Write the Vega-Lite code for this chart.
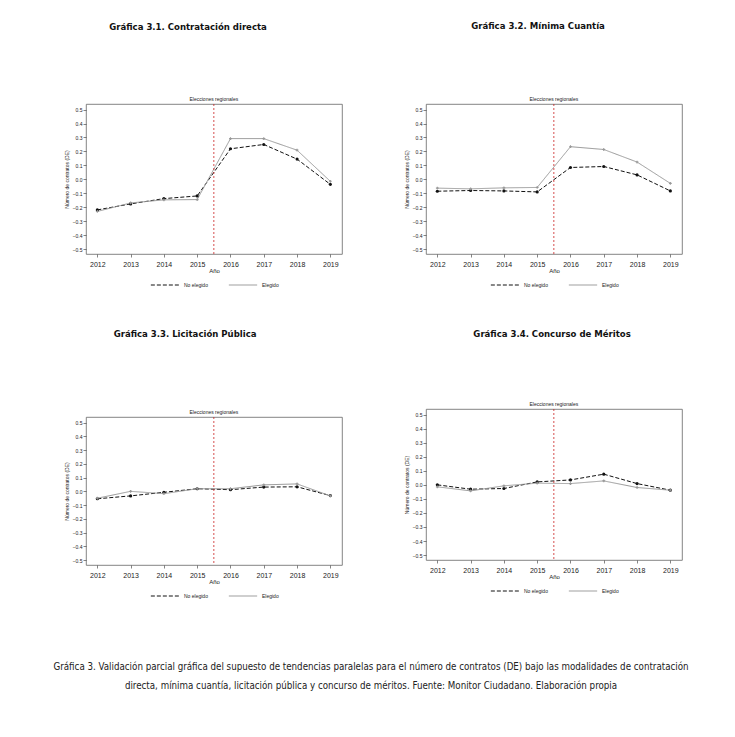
{
  "$schema": "https://vega.github.io/schema/vega-lite/v6.json",
  "background": "white",
  "padding": {"left": 53, "top": 20, "right": 5, "bottom": 5},
  "datasets": {
    "all": [
      {"panel": 1, "year": 2012, "group": "No elegido", "value": -0.219},
      {"panel": 1, "year": 2013, "group": "No elegido", "value": -0.176},
      {"panel": 1, "year": 2014, "group": "No elegido", "value": -0.138},
      {"panel": 1, "year": 2015, "group": "No elegido", "value": -0.119},
      {"panel": 1, "year": 2016, "group": "No elegido", "value": 0.219},
      {"panel": 1, "year": 2017, "group": "No elegido", "value": 0.25},
      {"panel": 1, "year": 2018, "group": "No elegido", "value": 0.145},
      {"panel": 1, "year": 2019, "group": "No elegido", "value": -0.036},
      {"panel": 1, "year": 2012, "group": "Elegido", "value": -0.23},
      {"panel": 1, "year": 2013, "group": "Elegido", "value": -0.169},
      {"panel": 1, "year": 2014, "group": "Elegido", "value": -0.147},
      {"panel": 1, "year": 2015, "group": "Elegido", "value": -0.145},
      {"panel": 1, "year": 2016, "group": "Elegido", "value": 0.292},
      {"panel": 1, "year": 2017, "group": "Elegido", "value": 0.292},
      {"panel": 1, "year": 2018, "group": "Elegido", "value": 0.209},
      {"panel": 1, "year": 2019, "group": "Elegido", "value": -0.014},
      {"panel": 2, "year": 2012, "group": "No elegido", "value": -0.085},
      {"panel": 2, "year": 2013, "group": "No elegido", "value": -0.08},
      {"panel": 2, "year": 2014, "group": "No elegido", "value": -0.083},
      {"panel": 2, "year": 2015, "group": "No elegido", "value": -0.09},
      {"panel": 2, "year": 2016, "group": "No elegido", "value": 0.085},
      {"panel": 2, "year": 2017, "group": "No elegido", "value": 0.092},
      {"panel": 2, "year": 2018, "group": "No elegido", "value": 0.032},
      {"panel": 2, "year": 2019, "group": "No elegido", "value": -0.083},
      {"panel": 2, "year": 2012, "group": "Elegido", "value": -0.063},
      {"panel": 2, "year": 2013, "group": "Elegido", "value": -0.068},
      {"panel": 2, "year": 2014, "group": "Elegido", "value": -0.061},
      {"panel": 2, "year": 2015, "group": "Elegido", "value": -0.058},
      {"panel": 2, "year": 2016, "group": "Elegido", "value": 0.234},
      {"panel": 2, "year": 2017, "group": "Elegido", "value": 0.214},
      {"panel": 2, "year": 2018, "group": "Elegido", "value": 0.124},
      {"panel": 2, "year": 2019, "group": "Elegido", "value": -0.029},
      {"panel": 3, "year": 2012, "group": "No elegido", "value": -0.054},
      {"panel": 3, "year": 2013, "group": "No elegido", "value": -0.033},
      {"panel": 3, "year": 2014, "group": "No elegido", "value": -0.007},
      {"panel": 3, "year": 2015, "group": "No elegido", "value": 0.019},
      {"panel": 3, "year": 2016, "group": "No elegido", "value": 0.012},
      {"panel": 3, "year": 2017, "group": "No elegido", "value": 0.031},
      {"panel": 3, "year": 2018, "group": "No elegido", "value": 0.033},
      {"panel": 3, "year": 2019, "group": "No elegido", "value": -0.031},
      {"panel": 3, "year": 2012, "group": "Elegido", "value": -0.05},
      {"panel": 3, "year": 2013, "group": "Elegido", "value": 0.0},
      {"panel": 3, "year": 2014, "group": "Elegido", "value": -0.017},
      {"panel": 3, "year": 2015, "group": "Elegido", "value": 0.019},
      {"panel": 3, "year": 2016, "group": "Elegido", "value": 0.019},
      {"panel": 3, "year": 2017, "group": "Elegido", "value": 0.047},
      {"panel": 3, "year": 2018, "group": "Elegido", "value": 0.054},
      {"panel": 3, "year": 2019, "group": "Elegido", "value": -0.033},
      {"panel": 4, "year": 2012, "group": "No elegido", "value": 0.0},
      {"panel": 4, "year": 2013, "group": "No elegido", "value": -0.031},
      {"panel": 4, "year": 2014, "group": "No elegido", "value": -0.026},
      {"panel": 4, "year": 2015, "group": "No elegido", "value": 0.021},
      {"panel": 4, "year": 2016, "group": "No elegido", "value": 0.035},
      {"panel": 4, "year": 2017, "group": "No elegido", "value": 0.076},
      {"panel": 4, "year": 2018, "group": "No elegido", "value": 0.009},
      {"panel": 4, "year": 2019, "group": "No elegido", "value": -0.038},
      {"panel": 4, "year": 2012, "group": "Elegido", "value": -0.014},
      {"panel": 4, "year": 2013, "group": "Elegido", "value": -0.043},
      {"panel": 4, "year": 2014, "group": "Elegido", "value": -0.007},
      {"panel": 4, "year": 2015, "group": "Elegido", "value": 0.012},
      {"panel": 4, "year": 2016, "group": "Elegido", "value": 0.009},
      {"panel": 4, "year": 2017, "group": "Elegido", "value": 0.028},
      {"panel": 4, "year": 2018, "group": "Elegido", "value": -0.019},
      {"panel": 4, "year": 2019, "group": "Elegido", "value": -0.038}
    ]
  },
  "spacing": 38,
  "vconcat": [
    {
      "columns": 2,
      "align": "none",
      "spacing": {"row": 38, "column": 60},
      "concat": [
        {
          "title": {"text": "Gráfica 3.1. Contratación directa", "offset": 66, "dx": -15},
          "width": 256, "height": 150,
          "layer": [
            {
              "data": {"name": "all"},
              "transform": [{"filter": "datum.panel == 1"}],
              "mark": {"type": "line", "strokeWidth": 1},
              "encoding": {
                "x": {"field": "year", "type": "quantitative", "title": "Año", "scale": {"domain": [2011.66, 2019.35], "nice": false, "zero": false}, "axis": {"values": [2012, 2013, 2014, 2015, 2016, 2017, 2018, 2019], "format": "d", "tickCount": 20}},
                "y": {"field": "value", "type": "quantitative", "title": "Número de contratos (DE)", "scale": {"domain": [-0.535, 0.54], "nice": false, "zero": false}, "axis": {"values": [-0.5, -0.4, -0.3, -0.2, -0.1, 0, 0.1, 0.2, 0.3, 0.4, 0.5], "format": ".1f", "tickCount": 20}},
                "color": {"field": "group", "type": "nominal", "scale": {"domain": ["No elegido", "Elegido"], "range": ["#111111", "#999999"]}, "legend": {"title": null}},
                "strokeDash": {"field": "group", "type": "nominal", "scale": {"domain": ["No elegido", "Elegido"], "range": [[4, 2], [1, 0]]}, "legend": {"title": null}}
              }
            },
            {
              "data": {"name": "all"},
              "transform": [{"filter": "datum.panel == 1 && datum.group == 'No elegido'"}],
              "mark": {"type": "point", "filled": true, "size": 10, "opacity": 1, "color": "#111111", "shape": "circle"},
              "encoding": {"x": {"field": "year", "type": "quantitative"}, "y": {"field": "value", "type": "quantitative"}}
            },
            {
              "data": {"name": "all"},
              "transform": [{"filter": "datum.panel == 1 && datum.group == 'Elegido'"}],
              "mark": {"type": "point", "filled": true, "size": 8, "opacity": 1, "color": "#999999", "shape": "cross"},
              "encoding": {"x": {"field": "year", "type": "quantitative"}, "y": {"field": "value", "type": "quantitative"}}
            },
            {
              "data": {"values": [{}]},
              "mark": {"type": "rule", "color": "#cc2222", "strokeDash": [2, 2], "strokeWidth": 0.8},
              "encoding": {"x": {"datum": 2015.5}}
            },
            {
              "data": {"values": [{}]},
              "mark": {"type": "text", "baseline": "bottom", "dy": -2, "fontSize": 5, "font": "Liberation Sans", "color": "#222222"},
              "encoding": {"x": {"datum": 2015.5}, "y": {"datum": 0.54}, "text": {"datum": "Elecciones regionales"}}
            }
          ]
        },
        {
          "title": {"text": "Gráfica 3.2. Mínima Cuantía", "offset": 67, "dx": -5},
          "width": 256, "height": 150,
          "layer": [
            {
              "data": {"name": "all"},
              "transform": [{"filter": "datum.panel == 2"}],
              "mark": {"type": "line", "strokeWidth": 1},
              "encoding": {
                "x": {"field": "year", "type": "quantitative", "title": "Año", "scale": {"domain": [2011.66, 2019.35], "nice": false, "zero": false}, "axis": {"values": [2012, 2013, 2014, 2015, 2016, 2017, 2018, 2019], "format": "d", "tickCount": 20}},
                "y": {"field": "value", "type": "quantitative", "title": "Número de contratos (DE)", "scale": {"domain": [-0.535, 0.54], "nice": false, "zero": false}, "axis": {"values": [-0.5, -0.4, -0.3, -0.2, -0.1, 0, 0.1, 0.2, 0.3, 0.4, 0.5], "format": ".1f", "tickCount": 20}},
                "color": {"field": "group", "type": "nominal", "scale": {"domain": ["No elegido", "Elegido"], "range": ["#111111", "#999999"]}, "legend": {"title": null}},
                "strokeDash": {"field": "group", "type": "nominal", "scale": {"domain": ["No elegido", "Elegido"], "range": [[4, 2], [1, 0]]}, "legend": {"title": null}}
              }
            },
            {
              "data": {"name": "all"},
              "transform": [{"filter": "datum.panel == 2 && datum.group == 'No elegido'"}],
              "mark": {"type": "point", "filled": true, "size": 10, "opacity": 1, "color": "#111111", "shape": "circle"},
              "encoding": {"x": {"field": "year", "type": "quantitative"}, "y": {"field": "value", "type": "quantitative"}}
            },
            {
              "data": {"name": "all"},
              "transform": [{"filter": "datum.panel == 2 && datum.group == 'Elegido'"}],
              "mark": {"type": "point", "filled": true, "size": 8, "opacity": 1, "color": "#999999", "shape": "cross"},
              "encoding": {"x": {"field": "year", "type": "quantitative"}, "y": {"field": "value", "type": "quantitative"}}
            },
            {
              "data": {"values": [{}]},
              "mark": {"type": "rule", "color": "#cc2222", "strokeDash": [2, 2], "strokeWidth": 0.8},
              "encoding": {"x": {"datum": 2015.5}}
            },
            {
              "data": {"values": [{}]},
              "mark": {"type": "text", "baseline": "bottom", "dy": -2, "fontSize": 5, "font": "Liberation Sans", "color": "#222222"},
              "encoding": {"x": {"datum": 2015.5}, "y": {"datum": 0.54}, "text": {"datum": "Elecciones regionales"}}
            }
          ]
        },
        {
          "title": {"text": "Gráfica 3.3. Licitación Pública", "offset": 72, "dx": -18},
          "width": 256, "height": 148,
          "layer": [
            {
              "data": {"name": "all"},
              "transform": [{"filter": "datum.panel == 3"}],
              "mark": {"type": "line", "strokeWidth": 1},
              "encoding": {
                "x": {"field": "year", "type": "quantitative", "title": "Año", "scale": {"domain": [2011.66, 2019.35], "nice": false, "zero": false}, "axis": {"values": [2012, 2013, 2014, 2015, 2016, 2017, 2018, 2019], "format": "d", "tickCount": 20}},
                "y": {"field": "value", "type": "quantitative", "title": "Número de contratos (DE)", "scale": {"domain": [-0.535, 0.54], "nice": false, "zero": false}, "axis": {"values": [-0.5, -0.4, -0.3, -0.2, -0.1, 0, 0.1, 0.2, 0.3, 0.4, 0.5], "format": ".1f", "tickCount": 20}},
                "color": {"field": "group", "type": "nominal", "scale": {"domain": ["No elegido", "Elegido"], "range": ["#111111", "#999999"]}, "legend": {"title": null}},
                "strokeDash": {"field": "group", "type": "nominal", "scale": {"domain": ["No elegido", "Elegido"], "range": [[4, 2], [1, 0]]}, "legend": {"title": null}}
              }
            },
            {
              "data": {"name": "all"},
              "transform": [{"filter": "datum.panel == 3 && datum.group == 'No elegido'"}],
              "mark": {"type": "point", "filled": true, "size": 10, "opacity": 1, "color": "#111111", "shape": "circle"},
              "encoding": {"x": {"field": "year", "type": "quantitative"}, "y": {"field": "value", "type": "quantitative"}}
            },
            {
              "data": {"name": "all"},
              "transform": [{"filter": "datum.panel == 3 && datum.group == 'Elegido'"}],
              "mark": {"type": "point", "filled": true, "size": 8, "opacity": 1, "color": "#999999", "shape": "cross"},
              "encoding": {"x": {"field": "year", "type": "quantitative"}, "y": {"field": "value", "type": "quantitative"}}
            },
            {
              "data": {"values": [{}]},
              "mark": {"type": "rule", "color": "#cc2222", "strokeDash": [2, 2], "strokeWidth": 0.8},
              "encoding": {"x": {"datum": 2015.5}}
            },
            {
              "data": {"values": [{}]},
              "mark": {"type": "text", "baseline": "bottom", "dy": -2, "fontSize": 5, "font": "Liberation Sans", "color": "#222222"},
              "encoding": {"x": {"datum": 2015.5}, "y": {"datum": 0.54}, "text": {"datum": "Elecciones regionales"}}
            }
          ]
        },
        {
          "title": {"text": "Gráfica 3.4. Concurso de Méritos", "offset": 64, "dx": 9},
          "width": 256, "height": 151,
          "layer": [
            {
              "data": {"name": "all"},
              "transform": [{"filter": "datum.panel == 4"}],
              "mark": {"type": "line", "strokeWidth": 1},
              "encoding": {
                "x": {"field": "year", "type": "quantitative", "title": "Año", "scale": {"domain": [2011.66, 2019.35], "nice": false, "zero": false}, "axis": {"values": [2012, 2013, 2014, 2015, 2016, 2017, 2018, 2019], "format": "d", "tickCount": 20}},
                "y": {"field": "value", "type": "quantitative", "title": "Número de contratos (DE)", "scale": {"domain": [-0.535, 0.54], "nice": false, "zero": false}, "axis": {"values": [-0.5, -0.4, -0.3, -0.2, -0.1, 0, 0.1, 0.2, 0.3, 0.4, 0.5], "format": ".1f", "tickCount": 20}},
                "color": {"field": "group", "type": "nominal", "scale": {"domain": ["No elegido", "Elegido"], "range": ["#111111", "#999999"]}, "legend": {"title": null}},
                "strokeDash": {"field": "group", "type": "nominal", "scale": {"domain": ["No elegido", "Elegido"], "range": [[4, 2], [1, 0]]}, "legend": {"title": null}}
              }
            },
            {
              "data": {"name": "all"},
              "transform": [{"filter": "datum.panel == 4 && datum.group == 'No elegido'"}],
              "mark": {"type": "point", "filled": true, "size": 10, "opacity": 1, "color": "#111111", "shape": "circle"},
              "encoding": {"x": {"field": "year", "type": "quantitative"}, "y": {"field": "value", "type": "quantitative"}}
            },
            {
              "data": {"name": "all"},
              "transform": [{"filter": "datum.panel == 4 && datum.group == 'Elegido'"}],
              "mark": {"type": "point", "filled": true, "size": 8, "opacity": 1, "color": "#999999", "shape": "cross"},
              "encoding": {"x": {"field": "year", "type": "quantitative"}, "y": {"field": "value", "type": "quantitative"}}
            },
            {
              "data": {"values": [{}]},
              "mark": {"type": "rule", "color": "#cc2222", "strokeDash": [2, 2], "strokeWidth": 0.8},
              "encoding": {"x": {"datum": 2015.5}}
            },
            {
              "data": {"values": [{}]},
              "mark": {"type": "text", "baseline": "bottom", "dy": -2, "fontSize": 5, "font": "Liberation Sans", "color": "#222222"},
              "encoding": {"x": {"datum": 2015.5}, "y": {"datum": 0.54}, "text": {"datum": "Elecciones regionales"}}
            }
          ]
        }
      ],
      "resolve": {"scale": {"color": "independent", "strokeDash": "independent"}, "legend": {"color": "independent", "strokeDash": "independent"}}
    },
    {
      "width": 614, "height": 55,
      "view": {"stroke": null},
      "data": {"values": [{}]},
      "mark": {"type": "text", "clip": false, "align": "center", "baseline": "middle", "dx": -22, "font": "DejaVu Sans Condensed, Liberation Sans, sans-serif", "fontSize": 9.7, "lineHeight": 19, "color": "#222222"},
      "encoding": {"text": {"value": ["Gráfica 3. Validación parcial gráfica del supuesto de tendencias paralelas para el número de contratos (DE) bajo las modalidades de contratación", "directa, mínima cuantía, licitación pública y concurso de méritos. Fuente: Monitor Ciudadano. Elaboración propia"]}}
    }
  ],
  "config": {
    "view": {"stroke": "#666666", "strokeWidth": 0.8},
    "axis": {"domain": false, "grid": false, "tickColor": "#333333", "tickSize": 3, "tickWidth": 0.6, "labelColor": "#222222", "titleColor": "#222222", "labelFont": "Liberation Sans", "titleFont": "Liberation Sans", "titleFontWeight": "normal", "labelOverlap": false},
    "axisX": {"labelFontSize": 7, "titleFontSize": 6, "titlePadding": 0, "labelPadding": 3, "labelFlush": false},
    "axisY": {"labelFontSize": 5, "titleFontSize": 5, "titlePadding": 3, "labelPadding": 1},
    "legend": {"orient": "bottom", "direction": "horizontal", "labelFontSize": 5, "labelFont": "Liberation Sans", "labelColor": "#222222", "symbolType": "stroke", "symbolSize": 800, "symbolStrokeWidth": 1, "columnPadding": 20, "offset": 8, "clipHeight": 8, "layout": {"bottom": {"anchor": "middle"}}},
    "title": {"font": "DejaVu Sans Condensed, Liberation Sans, sans-serif", "fontSize": 9.5, "fontWeight": "bold", "anchor": "middle", "frame": "bounds", "color": "#111111"}
  }
}
